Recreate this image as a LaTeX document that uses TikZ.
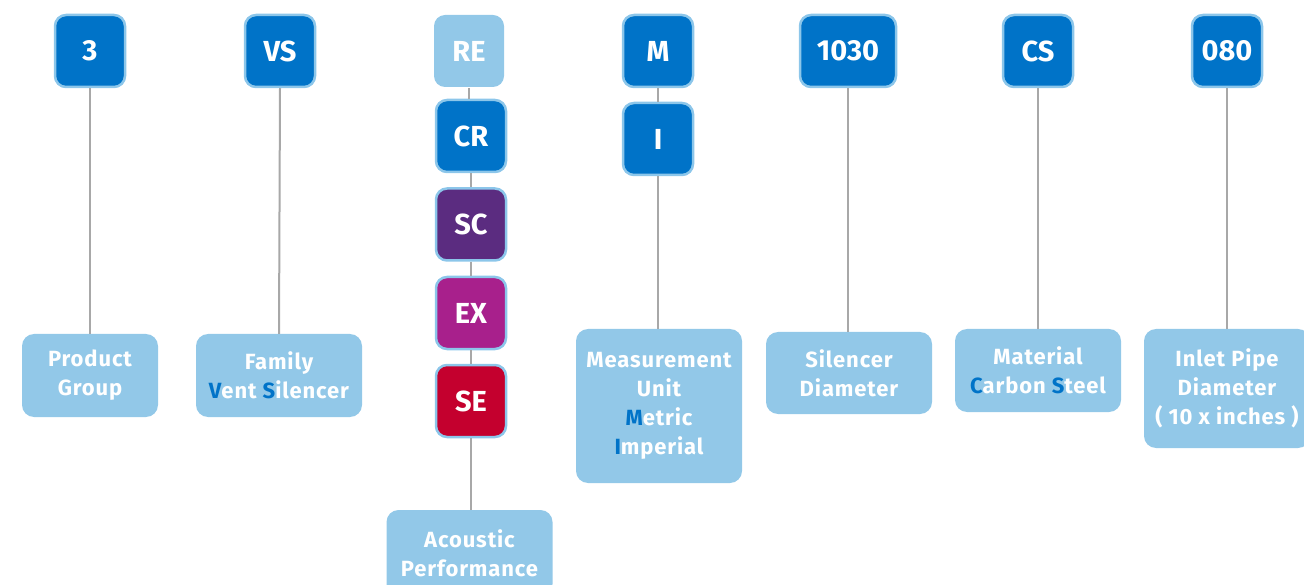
\documentclass[tikz,border=0pt]{standalone}
\usepackage{fontspec}
\setmainfont{Fira Sans}
\usepackage{tikz}

\definecolor{codeblue}{RGB}{0,115,200}
\definecolor{rimblue}{RGB}{140,198,234}
\definecolor{paleblue}{RGB}{146,200,232}
\definecolor{plum}{RGB}{91,44,128}
\definecolor{orchid}{RGB}{168,32,140}
\definecolor{crimson}{RGB}{196,0,46}
\definecolor{stem}{RGB}{168,168,168}

\newcommand{\hl}[1]{\textcolor{codeblue}{#1}}

\begin{document}
\begin{tikzpicture}[x=1pt,y=-1pt,
  code/.style={draw=rimblue,line width=2.5pt,fill=codeblue,rounded corners=11pt,
    minimum width=70pt,minimum height=72pt,inner sep=0pt,text=white,
    font=\fontsize{29}{30}\selectfont\bfseries},
  label/.style={fill=paleblue,rounded corners=12pt,minimum width=166pt,inner sep=0pt,
    text=white,align=center,
    font=\fontsize{22}{29}\selectfont\bfseries\addfontfeatures{LetterSpace=4}},
  link/.style={draw=stem,line width=2pt}]

\useasboundingbox (0,0) rectangle (1304,585);

\node[code] (grp) at (90,51) {3};
\node[code] (fam) at (280,51) {VS};

\node[code,draw=none,fill=paleblue] (re) at (469,51) {RE};
\node[code] (cr) at (471,136) {CR};
\node[code,fill=plum] (sc) at (471,224.5) {SC};
\node[code,fill=orchid] (ex) at (471,313) {EX};
\node[code,fill=crimson] (se) at (471,401) {SE};

\node[code] (met) at (658,51) {M};
\node[code] (imp) at (658,139) {I};

\node[code,minimum width=96pt] (dia) at (848,51) {1030};
\node[code] (mat) at (1038,51) {CS};
\node[code] (pipe) at (1227,51) {080};

\node[label,minimum width=136pt,minimum height=83pt] (grplbl) at (90,375.5) {Product\\Group};
\node[label,minimum height=83pt] (famlbl) at (279,375.5) {Family\\\hl{V}ent \hl{S}ilencer};
\node[label,minimum height=86pt] (aclbl) at (469.5,553) {Acoustic\\Performance};
\node[label,minimum height=154pt] (metlbl) at (659,406) {Measurement\\Unit\\\hl{M}etric\\\hl{I}mperial};
\node[label,minimum height=82pt] (dialbl) at (849,373) {Silencer\\Diameter};
\node[label,minimum height=83pt] (matlbl) at (1038,370.5) {Material\\\hl{C}arbon \hl{S}teel};
\node[label,minimum height=119pt] (pipelbl) at (1227,388.5) {Inlet Pipe\\Diameter\\( 10 x inches )};

\draw[link] (grp.south) -- (grplbl.north);
\draw[link] (fam.south) -- (famlbl.north);

\draw[link] (re.south) -- (re.south |- cr.north);
\draw[link] (cr.south) -- (sc.north);
\draw[link] (sc.south) -- (ex.north);
\draw[link] (ex.south) -- (se.north);
\draw[link] (se.south) -- (se.south |- aclbl.north);

\draw[link] (met.south) -- (imp.north);
\draw[link] (imp.south) -- (metlbl.north -| imp.south);

\draw[link] (dia.south) -- (dialbl.north -| dia.south);
\draw[link] (mat.south) -- (matlbl.north);
\draw[link] (pipe.south) -- (pipelbl.north);
\end{tikzpicture}
\end{document}
